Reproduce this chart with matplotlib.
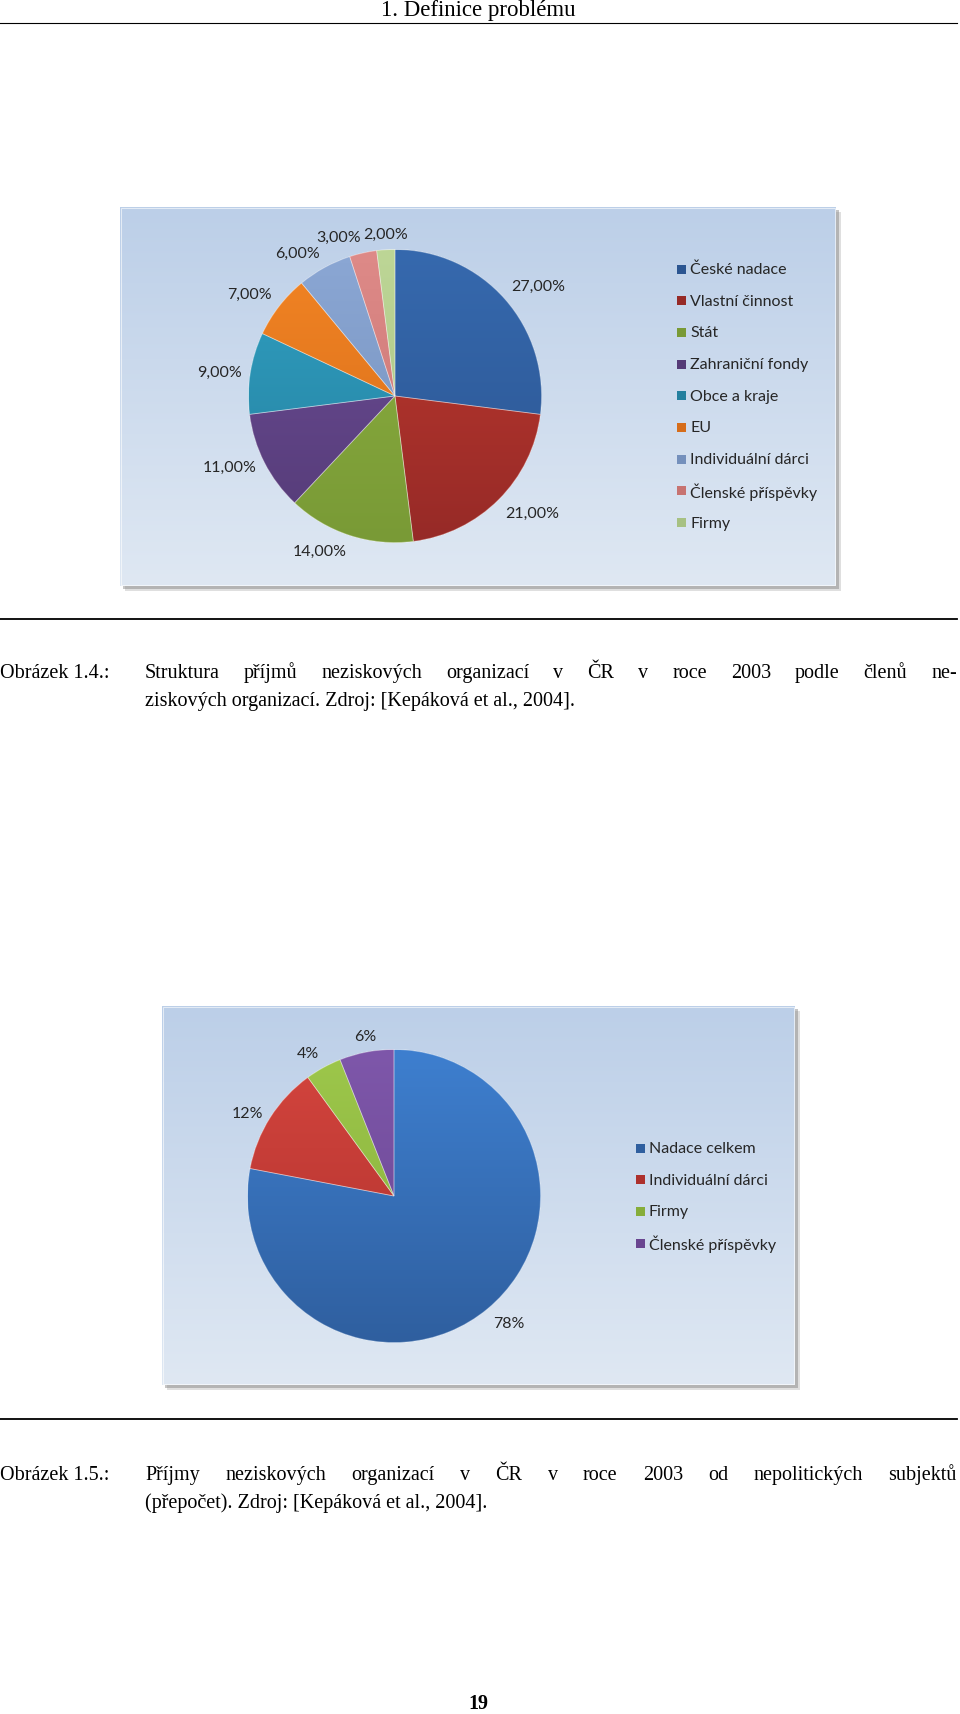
import numpy as np
import matplotlib.pyplot as plt
from matplotlib.patches import Rectangle, Wedge
from matplotlib.colors import LinearSegmentedColormap

W, H = 960, 1715

# chart 1: Struktura prijmu NO podle clenu NO
cats1 = ["České nadace", "Vlastní činnost", "Stát", "Zahraniční fondy", "Obce a kraje",
         "EU", "Individuální dárci", "Členské příspěvky", "Firmy"]
vals1 = [27, 21, 14, 11, 9, 7, 6, 3, 2]
labels1 = ["27,00%", "21,00%", "14,00%", "11,00%", "9,00%", "7,00%", "6,00%", "3,00%", "2,00%"]
top1 = ["#3669ae", "#c0392f", "#8db040", "#6d4e98", "#31a0c2", "#f28424", "#8ba7d4", "#de8a88", "#bdd696"]
bot1 = ["#2b5591", "#962a27", "#799a36", "#553b77", "#24809f", "#d66d1a", "#7490bc", "#c77371", "#a7c183"]

# chart 2: Prijmy NO od nepolitickych subjektu
cats2 = ["Nadace celkem", "Individuální dárci", "Firmy", "Členské příspěvky"]
vals2 = [78, 12, 4, 6]
labels2 = ["78%", "12%", "4%", "6%"]
top2 = ["#3e7fcf", "#d4453e", "#9dc74b", "#7e57aa"]
bot2 = ["#2f5f9f", "#ad302c", "#86ad3a", "#694590"]

LBL = "Lato"
SERIF = "Liberation Serif"
CFS = 11.5   # chart text size
FS = 14.5    # page text size

fig = plt.figure(figsize=(W / 100, H / 100), dpi=100)
ax = fig.add_axes([0, 0, 1, 1])


def Y(y):
    return H - y


def chart(box, center, r, vals, labels, cats, tops, bots, leg_x, leg_y0, leg_dy):
    x0, y0, x1, y1 = box
    # shadow
    for off, a in [(5, 0.25), (3, 0.45)]:
        ax.add_patch(Rectangle((x0 + off, Y(y1) - off), x1 - x0, y1 - y0,
                               color="#808080", alpha=a, lw=0, zorder=0.5))
    bg = np.linspace(0, 1, 256).reshape(-1, 1)
    cm_bg = LinearSegmentedColormap.from_list("bg", ["#bccfe8", "#dfe8f3"])
    ax.imshow(bg, cmap=cm_bg, extent=(x0, x1, Y(y1), Y(y0)), origin="upper",
              aspect="auto", zorder=1)
    ax.add_patch(Rectangle((x0 + 1, Y(y1) + 1), x1 - x0 - 2, y1 - y0 - 2,
                           fill=False, ec="white", lw=0.6, alpha=0.7, zorder=1.1))

    cx, cy = center
    wedges, _ = ax.pie(vals, colors=tops, startangle=90, counterclock=False,
                       center=(cx, Y(cy)), radius=r, frame=True,
                       wedgeprops=dict(lw=0.6, ec=(1, 1, 1, 0.35)))
    g = np.linspace(0, 1, 256).reshape(-1, 1)
    for w, ct, cb in zip(wedges, tops, bots):
        w.set_zorder(2)
        cm = LinearSegmentedColormap.from_list("s", [ct, cb])
        im = ax.imshow(g, cmap=cm, extent=(cx - r, cx + r, Y(cy) - r, Y(cy) + r),
                       origin="upper", aspect="auto", zorder=2.1)
        im.set_clip_path(w)
        ax.add_patch(Wedge(w.center, w.r, w.theta1, w.theta2,
                           fill=False, ec=(1, 1, 1, 0.35), lw=0.6, zorder=2.2))

    # data labels outside of slices
    for w, t in zip(wedges, labels):
        mid = np.deg2rad((w.theta1 + w.theta2) / 2)
        dx, dy = np.cos(mid), np.sin(mid)
        ha = "left" if dx > 0.2 else ("right" if dx < -0.2 else "center")
        va = "bottom" if dy > 0.58 else ("top" if dy < -0.58 else "center")
        ax.text(cx + (r + 9) * dx, Y(cy) + (r + 9) * dy, t, ha=ha, va=va,
                fontsize=CFS, family=LBL, color="#262626", zorder=3)

    # legend
    for i, (name, ct, cb) in enumerate(zip(cats, tops, bots)):
        yy = Y(leg_y0 + i * leg_dy)
        ax.add_patch(Rectangle((leg_x - 4.5, yy - 4.5), 9, 9, color=cb, lw=0, zorder=3))
        ax.text(leg_x + 9, yy, name, ha="left", va="center", fontsize=CFS,
                family=LBL, color="#262626", zorder=3)


chart((120, 208, 836, 587), (395, 397), 146.5, vals1, labels1, cats1, top1, bot1,
      681, 270, 31.7)
chart((162, 1007, 795, 1386), (394, 1197), 146.5, vals2, labels2, cats2, top2, bot2,
      640, 1149, 31.7)

# page decoration
ax.text(478, Y(16), "1. Definice problému", ha="center", va="baseline", fontsize=16.5, family=SERIF)
ax.plot([0, 957], [Y(24), Y(24)], color="black", lw=0.8)
ax.plot([0, 957], [Y(620), Y(620)], color="black", lw=1.3)
ax.plot([0, 957], [Y(1420), Y(1420)], color="black", lw=1.3)
ax.text(478, Y(1709), "19", ha="center", va="baseline", fontsize=FS, family=SERIF, weight="bold")

renderer = fig.canvas.get_renderer()


def justify(text, xa, xb, y):
    words = text.split()
    objs = [ax.text(0, Y(y), w_, ha="left", va="baseline", fontsize=FS, family=SERIF)
            for w_ in words]
    widths = [o.get_window_extent(renderer).width for o in objs]
    gap = (xb - xa - sum(widths)) / (len(words) - 1)
    x = xa
    for o, wd in zip(objs, widths):
        o.set_x(x)
        x += wd + gap


IND = 145
ax.text(0, Y(678), "Obrázek 1.4.:", ha="left", va="baseline", fontsize=FS, family=SERIF)
justify("Struktura příjmů neziskových organizací v ČR v roce 2003 podle členů ne-", IND, 957, 678)
ax.text(IND, Y(706), "ziskových organizací. Zdroj: [Kepáková et al., 2004].", ha="left",
        va="baseline", fontsize=FS, family=SERIF)

ax.text(0, Y(1480), "Obrázek 1.5.:", ha="left", va="baseline", fontsize=FS, family=SERIF)
justify("Příjmy neziskových organizací v ČR v roce 2003 od nepolitických subjektů", IND, 957, 1480)
ax.text(IND, Y(1508), "(přepočet). Zdroj: [Kepáková et al., 2004].", ha="left",
        va="baseline", fontsize=FS, family=SERIF)

ax.set_xlim(0, W)
ax.set_ylim(0, H)
ax.set_axis_off()
fig.savefig("out.png", dpi=100, facecolor="white")
